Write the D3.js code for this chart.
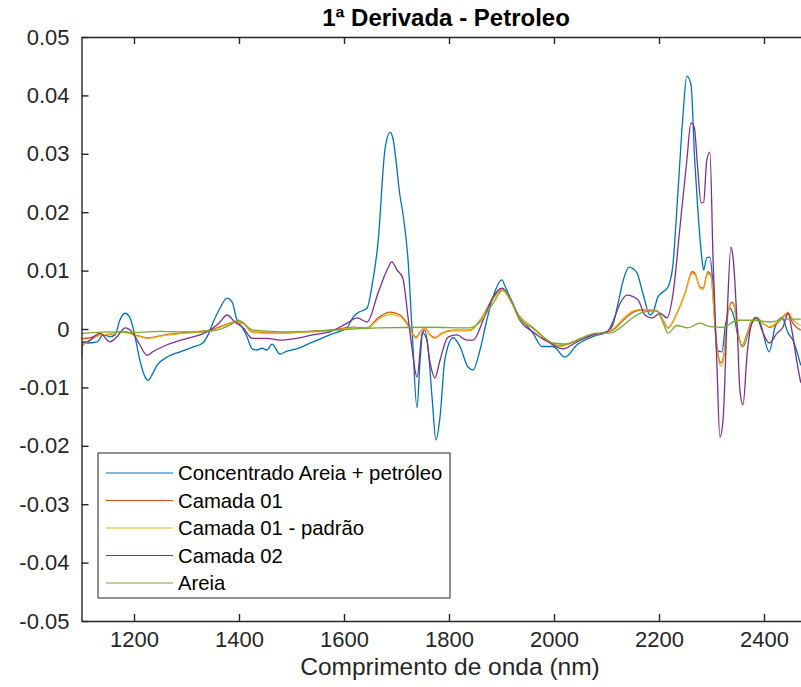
<!DOCTYPE html>
<html><head><meta charset="utf-8">
<script src="https://cdn.jsdelivr.net/npm/d3@7/dist/d3.min.js"></script>
<style>
html,body{margin:0;padding:0;background:#fff;}
svg{display:block;font-family:"Liberation Sans",Arial,Helvetica,sans-serif;}
</style></head>
<body>
<svg id="chart" width="801" height="687"></svg>
<script>
// ---------- DATA ----------
const titleText = "1ª Derivada - Petroleo";
const xLabelText = "Comprimento de onda (nm)";
const xTicks = [1200, 1400, 1600, 1800, 2000, 2200, 2400];
const xTickLabels = ["1200", "1400", "1600", "1800", "2000", "2200", "2400"];
const yTicks = [-0.05, -0.04, -0.03, -0.02, -0.01, 0, 0.01, 0.02, 0.03, 0.04, 0.05];
const yTickLabels = ["-0.05", "-0.04", "-0.03", "-0.02", "-0.01", "0", "0.01", "0.02", "0.03", "0.04", "0.05"];
const seriesNames = ["Concentrado Areia + petróleo", "Camada 01", "Camada 01 - padrão", "Camada 02", "Areia"];
const seriesColors = ["#0072BD", "#D95319", "#EDB120", "#7E2F8E", "#77AC30"];

// Concentrado Areia + petróleo
const wlConcentrado = [1100,1110,1130,1141,1154,1164,1173,1183,1192,1202,1211,1221,1227,1234,1244,1263,1288,1312,1331,1341,1350,1364,1377,1387,1396,1406,1415,1425,1434,1444,1453,1463,1478,1491,1510,1541,1573,1606,1617,1625,1644,1653,1665,1678,1688,1693,1707,1712,1722,1730,1739,1745,1750,1758,1768,1775,1783,1792,1808,1821,1836,1846,1859,1872,1884,1901,1906,1929,1960,1977,1998,2021,2044,2074,2101,2112,2122,2132,2143,2158,2169,2183,2188,2198,2217,2226,2236,2245,2253,2261,2268,2274,2282,2285,2291,2297,2303,2310,2320,2326,2335,2343,2351,2360,2370,2383,2392,2410,2421,2434,2446,2455,2470];
const concentrado = [-0.0022,-0.0024,-0.0022,-0.0010,-0.0013,-0.0010,0.0015,0.0027,0.0020,-0.0013,-0.0053,-0.0082,-0.0088,-0.0079,-0.0062,-0.0048,-0.0039,-0.0031,-0.0024,-0.0010,0.0010,0.0036,0.0053,0.0046,0.0015,0.0003,-0.0013,-0.0034,-0.0036,-0.0033,-0.0036,-0.0026,-0.0043,-0.0038,-0.0034,-0.0022,-0.0010,0.0003,0.0020,0.0027,0.0036,0.0072,0.0150,0.0307,0.0337,0.0327,0.0226,0.0199,0.0118,-0.0007,-0.0135,-0.0053,-0.0007,-0.0019,-0.0120,-0.0190,-0.0150,-0.0053,-0.0015,-0.0030,-0.0065,-0.0070,-0.0036,0.0015,0.0055,0.0084,0.0075,0.0027,-0.0007,-0.0030,-0.0030,-0.0048,-0.0027,-0.0013,-0.0005,0.0007,0.0044,0.0084,0.0106,0.0096,0.0062,0.0024,0.0027,0.0055,0.0072,0.0106,0.0233,0.0358,0.0433,0.0418,0.0289,0.0204,0.0118,0.0101,0.0122,0.0123,0.0072,-0.0036,-0.0039,0.0003,0.0036,0.0020,-0.0014,-0.0030,-0.0007,0.0020,0.0012,-0.0039,0.0003,0.0020,-0.0007,-0.0019,-0.0062];

// Camada 01
const wlCamada01 = [1100,1116,1135,1154,1179,1202,1227,1259,1288,1345,1373,1392,1408,1425,1478,1510,1573,1617,1644,1665,1688,1707,1720,1730,1737,1745,1754,1764,1773,1787,1808,1840,1859,1878,1901,1920,1929,1960,1992,2011,2036,2069,2093,2112,2132,2151,2170,2196,2208,2217,2234,2250,2263,2268,2278,2284,2293,2299,2307,2312,2318,2324,2331,2339,2343,2349,2358,2368,2377,2387,2398,2411,2425,2436,2446,2455,2470];
const camada01 = [-0.0017,-0.0015,-0.0010,-0.0009,-0.0004,-0.0010,-0.0015,-0.0010,-0.0007,-0.0002,0.0007,0.0012,0.0010,-0.0005,-0.0007,-0.0005,-0.0002,0.0003,0.0002,0.0019,0.0029,0.0024,0.0010,-0.0007,-0.0014,-0.0005,0.0002,-0.0010,-0.0015,-0.0007,-0.0002,-0.0002,0.0015,0.0044,0.0069,0.0045,0.0029,0.0002,-0.0022,-0.0029,-0.0022,-0.0012,-0.0007,-0.0002,0.0015,0.0029,0.0033,0.0031,0.0015,0.0002,0.0027,0.0062,0.0098,0.0096,0.0072,0.0070,0.0098,0.0092,0.0003,-0.0041,-0.0058,-0.0041,0.0027,0.0046,0.0041,0.0003,-0.0029,-0.0007,0.0015,0.0019,0.0010,0.0003,0.0010,0.0020,0.0027,0.0010,-0.0002];

// Camada 01 - padrão
const wlPadrao = [1100,1116,1135,1154,1179,1202,1227,1259,1288,1345,1373,1392,1408,1425,1478,1510,1573,1617,1644,1665,1688,1707,1720,1730,1737,1745,1754,1764,1773,1787,1808,1840,1859,1878,1901,1920,1929,1960,1992,2011,2036,2069,2093,2112,2132,2151,2170,2196,2208,2217,2234,2250,2263,2268,2278,2284,2293,2299,2307,2312,2318,2324,2331,2339,2343,2349,2358,2368,2377,2387,2398,2411,2425,2436,2446,2455,2470];
const padrao = [-0.0030,-0.0019,-0.0011,-0.0009,-0.0005,-0.0011,-0.0016,-0.0011,-0.0008,-0.0003,0.0006,0.0011,0.0009,-0.0006,-0.0008,-0.0006,-0.0003,0.0002,0.0001,0.0016,0.0025,0.0021,0.0008,-0.0008,-0.0016,-0.0006,0.0001,-0.0011,-0.0016,-0.0008,-0.0003,-0.0003,0.0014,0.0043,0.0066,0.0043,0.0028,0.0001,-0.0023,-0.0030,-0.0023,-0.0012,-0.0006,0.0000,0.0018,0.0031,0.0034,0.0030,0.0014,0.0001,0.0026,0.0062,0.0095,0.0094,0.0070,0.0068,0.0095,0.0090,0.0000,-0.0045,-0.0063,-0.0046,0.0024,0.0044,0.0039,0.0001,-0.0031,-0.0009,0.0013,0.0018,0.0010,0.0004,0.0012,0.0022,0.0029,0.0016,0.0006];

// Camada 02
const wlCamada02 = [1100,1103,1110,1135,1154,1168,1183,1198,1211,1225,1236,1263,1301,1326,1345,1364,1377,1392,1408,1425,1453,1478,1510,1541,1573,1606,1625,1644,1665,1682,1691,1701,1712,1722,1730,1739,1749,1754,1764,1773,1783,1798,1815,1834,1846,1865,1884,1901,1920,1935,1960,1992,2017,2044,2074,2101,2112,2126,2139,2160,2173,2187,2202,2215,2227,2240,2253,2261,2267,2274,2280,2285,2291,2297,2303,2310,2316,2322,2329,2337,2341,2349,2354,2360,2368,2377,2387,2396,2410,2425,2436,2446,2453,2463,2470];
const camada02 = [-0.0050,-0.0022,-0.0022,-0.0007,-0.0022,-0.0013,0.0002,-0.0007,-0.0027,-0.0045,-0.0039,-0.0027,-0.0016,-0.0010,-0.0002,0.0012,0.0024,0.0012,0.0002,-0.0016,-0.0016,-0.0019,-0.0016,-0.0010,-0.0005,0.0010,0.0019,0.0012,0.0062,0.0101,0.0115,0.0101,0.0087,0.0020,-0.0036,-0.0082,-0.0007,-0.0002,-0.0058,-0.0084,-0.0053,-0.0014,-0.0010,-0.0019,-0.0019,0.0015,0.0055,0.0070,0.0047,0.0015,-0.0005,-0.0024,-0.0034,-0.0022,-0.0010,-0.0005,0.0012,0.0044,0.0058,0.0050,0.0024,0.0019,0.0027,0.0019,0.0062,0.0175,0.0289,0.0353,0.0346,0.0272,0.0216,0.0217,0.0289,0.0303,0.0118,-0.0053,-0.0185,-0.0156,0.0003,0.0140,0.0123,0.0003,-0.0104,-0.0130,-0.0041,0.0010,0.0019,-0.0002,-0.0024,-0.0007,0.0003,0.0027,-0.0002,-0.0058,-0.0092];

// Areia
const wlAreia = [1100,1150,1200,1250,1300,1350,1385,1398,1427,1460,1510,1560,1665,1764,1840,1859,1884,1903,1922,1935,1960,1998,2025,2050,2082,2107,2126,2151,2170,2196,2208,2217,2234,2255,2278,2297,2322,2349,2380,2411,2442,2470];
const areia = [-0.0008,-0.0005,-0.0006,-0.0004,-0.0005,-0.0003,0.0008,0.0015,-0.0002,-0.0004,-0.0005,-0.0003,0.0002,0.0003,0.0002,0.0012,0.0044,0.0067,0.0041,0.0015,0.0002,-0.0024,-0.0026,-0.0016,-0.0007,-0.0007,0.0002,0.0020,0.0029,0.0031,0.0010,-0.0007,0.0006,0.0002,0.0010,0.0004,0.0003,0.0015,0.0015,0.0012,0.0017,0.0017];

// ---------- CHART ----------
const svg = d3.select("#chart");
const plotLeft = 81.5, plotTop = 37, plotBottom = 621;
const pxPerNm = 0.525;
const xMax = 2500;
const plotRight = plotLeft + (xMax - 1100) * pxPerNm;

const x = d3.scaleLinear().domain([1100, xMax]).range([plotLeft, plotRight]);
const y = d3.scaleLinear().domain([-0.05, 0.05]).range([plotBottom, plotTop]);
const axisColor = "#262626";

svg.append("defs").append("clipPath").attr("id", "plotclip")
  .append("rect").attr("x", plotLeft).attr("y", plotTop).attr("width", plotRight - plotLeft).attr("height", plotBottom - plotTop);

const seriesX = [wlConcentrado, wlCamada01, wlPadrao, wlCamada02, wlAreia];
const seriesY = [concentrado, camada01, padrao, camada02, areia];

const line = d3.line().x(d => x(d[0])).y(d => y(d[1])).curve(d3.curveMonotoneX);
const plot = svg.append("g").attr("clip-path", "url(#plotclip)");
seriesNames.forEach((name, i) => {
  const pts = seriesX[i].map((w, j) => [w, seriesY[i][j]]);
  plot.append("path").datum(pts)
    .attr("d", line)
    .attr("fill", "none")
    .attr("stroke", seriesColors[i])
    .attr("stroke-width", 1.3)
    .attr("stroke-linejoin", "round");
});

function styleAxis(g) {
  g.select(".domain").attr("stroke", axisColor).attr("stroke-width", 1.4);
  g.selectAll(".tick line").attr("stroke", axisColor).attr("stroke-width", 1.4);
  g.selectAll(".tick text").attr("fill", "#262626").style("font-size", "22px")
    .style("font-family", "'Liberation Sans', Arial, Helvetica, sans-serif");
}

svg.append("g").attr("transform", `translate(0,${plotBottom})`)
  .call(d3.axisBottom(x).tickValues(xTicks).tickFormat((d, i) => xTickLabels[i])
    .tickSizeInner(-7).tickSizeOuter(0).tickPadding(10))
  .call(styleAxis);

svg.append("g").attr("transform", `translate(0,${plotTop})`)
  .call(d3.axisTop(x).tickValues(xTicks).tickFormat("")
    .tickSizeInner(-7).tickSizeOuter(0))
  .call(styleAxis);

svg.append("g").attr("transform", `translate(${plotLeft},0)`)
  .call(d3.axisLeft(y).tickValues(yTicks).tickFormat((d, i) => yTickLabels[i])
    .tickSizeInner(-7).tickSizeOuter(0).tickPadding(12))
  .call(styleAxis);

svg.append("g").attr("transform", `translate(${plotRight},0)`)
  .call(d3.axisRight(y).tickValues(yTicks).tickFormat("")
    .tickSizeInner(-7).tickSizeOuter(0))
  .call(styleAxis);

// title
svg.append("text").attr("x", (plotLeft + plotRight) / 2 - 3).attr("y", 26)
  .attr("text-anchor", "middle").attr("fill", "#000")
  .style("font-size", "24px").style("font-weight", "bold").text(titleText);

// x label
svg.append("text").attr("x", (plotLeft + plotRight) / 2 + 1).attr("y", 675)
  .attr("text-anchor", "middle").attr("fill", "#262626")
  .style("font-size", "24.5px").text(xLabelText);

// legend
const lg = svg.append("g");
const lgX = 98, lgY = 453, lgW = 352, lgH = 145, rowH = 27.5, row0 = 473;
lg.append("rect").attr("x", lgX).attr("y", lgY).attr("width", lgW).attr("height", lgH)
  .attr("fill", "#fff").attr("stroke", axisColor).attr("stroke-width", 1);
seriesNames.forEach((name, i) => {
  const yy = row0 + i * rowH;
  lg.append("line").attr("x1", 106).attr("x2", 173).attr("y1", yy).attr("y2", yy)
    .attr("stroke", seriesColors[i]).attr("stroke-width", 1.2);
  lg.append("text").attr("x", 178).attr("y", yy).attr("dy", "0.35em")
    .attr("fill", "#000").style("font-size", "20.3px").text(name);
});
</script>
</body></html>
